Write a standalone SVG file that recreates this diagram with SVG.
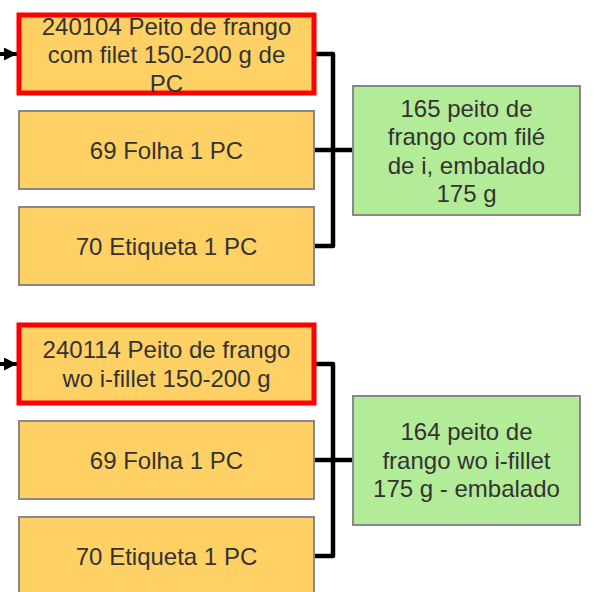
<svg xmlns="http://www.w3.org/2000/svg" width="600" height="592" viewBox="0 0 600 592">
<style>
.in{fill:#FFD063;stroke:#888;stroke-width:2}
.sel{fill:#FFD063;stroke:#FF0000;stroke-width:5}
.out{fill:#B3EC99;stroke:#888;stroke-width:2}
text{font-family:"Liberation Sans",Arial,sans-serif;font-size:24px;fill:#333;text-anchor:middle}
.c{fill:none;stroke:#000;stroke-width:4.5;stroke-linejoin:round}
.a{fill:none;stroke:#000;stroke-width:4}
</style>
<defs>
<marker id="ah" markerWidth="13" markerHeight="13" refX="10" refY="5" orient="auto" markerUnits="userSpaceOnUse" viewBox="0 0 10 10">
<path d="M0,0 L10,5 L0,10 Z" fill="#000"/>
</marker>
</defs>
<rect width="600" height="592" fill="#fff"/>
<g id="connectors">
<path class="a" d="M0,54 H17" marker-end="url(#ah)"/>
<path class="c" d="M315,54 H333 V246 H315 M315,150 H353"/>
<path class="a" d="M0,364 H17" marker-end="url(#ah)"/>
<path class="c" d="M315,364 H333 V556 H315 M315,460 H353"/>
</g>
<g id="n240104">
<rect class="sel" x="19" y="15" width="295" height="78"/>
<text x="166.5" y="34.5">240104 Peito de frango</text>
<text x="166.5" y="63">com filet 150-200 g de</text>
<text x="166.5" y="91.5">PC</text>
</g>
<g id="n69a">
<rect class="in" x="19" y="111" width="295" height="78"/>
<text x="166.5" y="159">69 Folha 1 PC</text>
</g>
<g id="n70a">
<rect class="in" x="19" y="207" width="295" height="78"/>
<text x="166.5" y="255">70 Etiqueta 1 PC</text>
</g>
<g id="n165">
<rect class="out" x="353" y="86" width="227" height="129"/>
<text x="466.5" y="116.5">165 peito de</text>
<text x="466.5" y="145">frango com filé</text>
<text x="466.5" y="173.5">de i, embalado</text>
<text x="466.5" y="202">175 g</text>
</g>
<g id="n240114">
<rect class="sel" x="19" y="325" width="295" height="78"/>
<text x="166.5" y="358">240114 Peito de frango</text>
<text x="166.5" y="386.5">wo i-fillet 150-200 g</text>
</g>
<g id="n69b">
<rect class="in" x="19" y="421" width="295" height="78"/>
<text x="166.5" y="469">69 Folha 1 PC</text>
</g>
<g id="n70b">
<rect class="in" x="19" y="517" width="295" height="78"/>
<text x="166.5" y="565">70 Etiqueta 1 PC</text>
</g>
<g id="n164">
<rect class="out" x="353" y="396" width="227" height="129"/>
<text x="466.5" y="440">164 peito de</text>
<text x="466.5" y="468.5">frango wo i-fillet</text>
<text x="466.5" y="497">175 g - embalado</text>
</g>
</svg>
